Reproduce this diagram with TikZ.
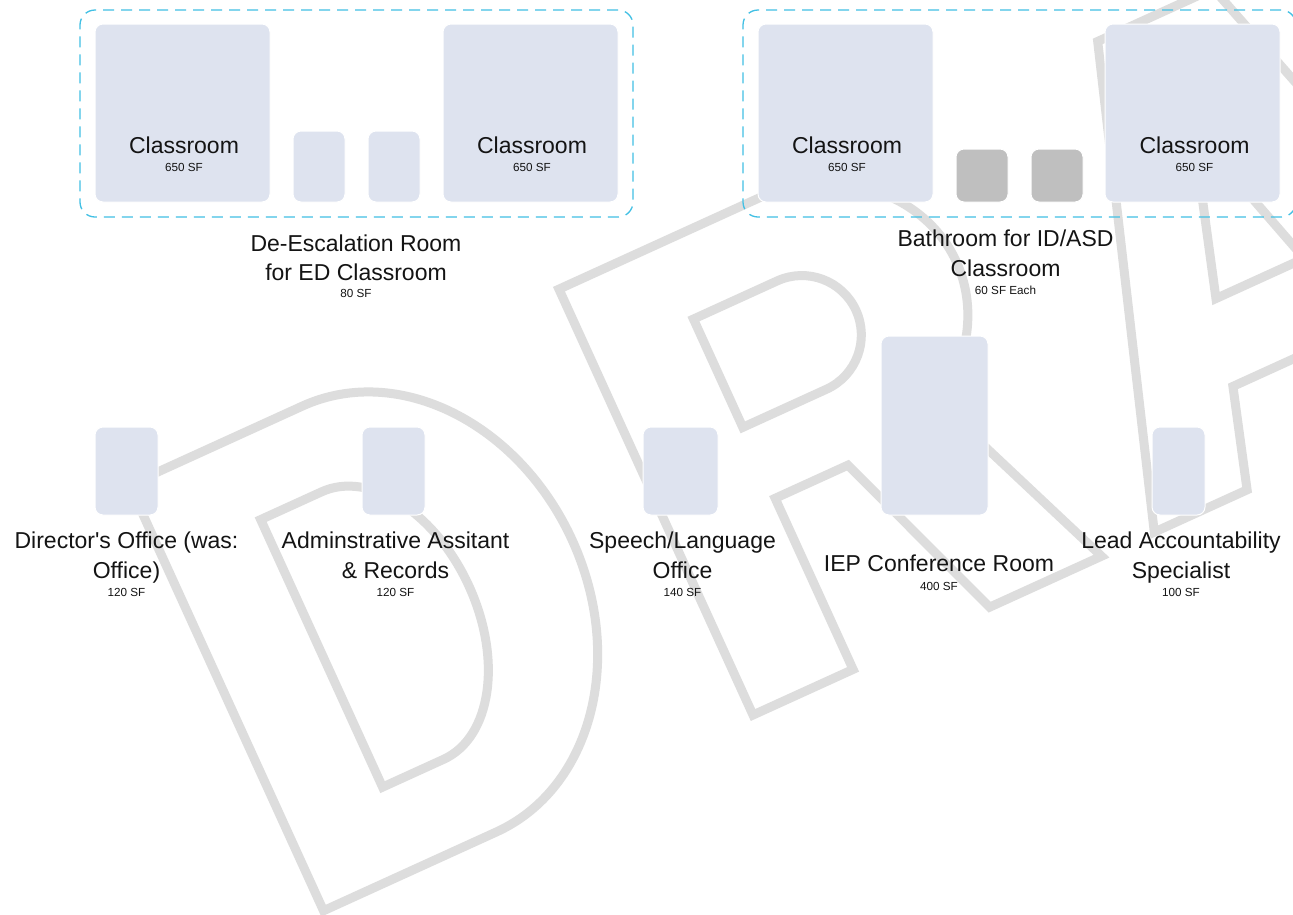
\documentclass[tikz,border=0pt]{standalone}
\usepackage{fontspec}
\setmainfont{Liberation Sans}
% plain family: keeps the straight apostrophe
\newfontfamily\roomfont{Liberation Sans}

\definecolor{roomfill}{RGB}{222,227,239}
\definecolor{bathfill}{RGB}{191,191,191}
\definecolor{zoneline}{RGB}{66,192,228}
\definecolor{wmgrey}{RGB}{221,221,221}
\definecolor{ink}{RGB}{20,20,20}

\tikzset{
  room/.style={shape=rectangle, fill=roomfill, draw=white, line width=1pt,
    rounded corners=8pt, anchor=north west, inner sep=0pt, outer sep=0pt},
  bath/.style={room, fill=bathfill},
  zone/.style={shape=rectangle, draw=zoneline, line width=1.3pt,
    dash pattern=on 11pt off 7pt, rounded corners=15pt,
    anchor=north west, inner sep=0pt, outer sep=0pt},
  bigtxt/.style={font=\roomfont\fontsize{23}{28}\selectfont, text=ink, inner sep=0pt, anchor=base},
  smalltxt/.style={font=\roomfont\fontsize{11.7}{14}\selectfont, text=ink, inner sep=0pt, anchor=base},
  wm/.style={draw=wmgrey, line width=9pt}
}

\begin{document}
\begin{tikzpicture}[x=1pt, y=-1pt]
  \useasboundingbox (0,0) rectangle (1293,914);
  \clip (0,0) rectangle (1293,914);
  \fill[white] (0,0) rectangle (1293,914);

  % ---- DRAFT watermark (outlined letters, tilted) ----
  \begin{scope}[shift={(753,715)}, x=1pt, y=1pt, rotate=24.5]
    % D
    \draw[wm] (-472,0) -- (-472,468) -- (-282,468)
      arc[start angle=90, end angle=-90, x radius=190, y radius=234] -- cycle;
    \draw[wm] (-367,88) -- (-367,382) -- (-300,382)
      arc[start angle=90, end angle=-90, x radius=95, y radius=147] -- cycle;
    % R
    \draw[wm] (0,0) -- (0,468) -- (218,468)
      arc[start angle=90, end angle=-59, x radius=155, y radius=140]
      -- (383,0) -- (260,0) -- (190,188) -- (110,188) -- (110,0) -- cycle;
    \draw[wm] (110,266) -- (110,385) -- (202,385)
      arc[start angle=90, end angle=-90, radius=59.5] -- cycle;
    % A
    \draw[wm] (441,0) -- (593,470) -- (720,470) -- (862,0) -- (760,0)
      -- (730,100) -- (573,100) -- (543,0) -- cycle;
    \draw[wm] (594,187) -- (643,350) -- (691,187) -- cycle;
  \end{scope}

  % ---- ED classroom pair ----
  \node[zone, minimum width=553pt, minimum height=207pt] (zoneL) at (80,10) {};
  \node[room, minimum width=175pt, minimum height=178pt] (cr1) at (95,24) {};
  \node[room, minimum width=52pt, minimum height=71pt] (de1) at (293,131) {};
  \node[room, minimum width=52pt, minimum height=71pt] (de2) at (368,131) {};
  \node[room, minimum width=175pt, minimum height=178pt] (cr2) at (443,24) {};
  \node[bigtxt] (cr1t) at (184,153.5) {Classroom};
  \node[smalltxt] (cr1s) at (184,171) {650 SF};
  \node[bigtxt] (cr2t) at (532,153.5) {Classroom};
  \node[smalltxt] (cr2s) at (532,171) {650 SF};
  \node[bigtxt] (deL1) at (356,251.5) {De-Escalation Room};
  \node[bigtxt] (deL2) at (356,280) {for ED Classroom};
  \node[smalltxt] (deL3) at (356,297.5) {80 SF};

  % ---- ID/ASD classroom pair ----
  \node[zone, minimum width=553pt, minimum height=207pt] (zoneR) at (743,10) {};
  \node[room, minimum width=175pt, minimum height=178pt] (cr3) at (758,24) {};
  \node[bath, minimum width=52pt, minimum height=53pt] (ba1) at (956,149) {};
  \node[bath, minimum width=52pt, minimum height=53pt] (ba2) at (1031,149) {};
  \node[room, minimum width=175pt, minimum height=178pt] (cr4) at (1105,24) {};
  \node[bigtxt] (cr3t) at (847,153.5) {Classroom};
  \node[smalltxt] (cr3s) at (847,171) {650 SF};
  \node[bigtxt] (cr4t) at (1194.5,153.5) {Classroom};
  \node[smalltxt] (cr4s) at (1194.5,171) {650 SF};
  \node[bigtxt] (baL1) at (1005.5,246.5) {Bathroom for ID/ASD};
  \node[bigtxt] (baL2) at (1005.5,276.5) {Classroom};
  \node[smalltxt] (baL3) at (1005.5,294) {60 SF Each};

  % ---- offices ----
  \node[room, minimum width=63pt, minimum height=88pt] (dir) at (95,427) {};
  \node[room, minimum width=63pt, minimum height=88pt] (adm) at (362,427) {};
  \node[room, minimum width=75pt, minimum height=88pt] (slp) at (643,427) {};
  \node[room, minimum width=107pt, minimum height=179pt] (iep) at (881,336) {};
  \node[room, minimum width=53pt, minimum height=88pt] (las) at (1152,427) {};

  \node[bigtxt] (dirL1) at (126.5,548.3) {Director's Office (was:};
  \node[bigtxt] (dirL2) at (126.5,578.3) {Office)};
  \node[smalltxt] (dirL3) at (126.5,596.3) {120 SF};

  \node[bigtxt] (admL1) at (395.5,548.3) {Adminstrative Assitant};
  \node[bigtxt] (admL2) at (395.5,578.3) {\& Records};
  \node[smalltxt] (admL3) at (395.5,596.3) {120 SF};

  \node[bigtxt] (slpL1) at (682.5,548.3) {Speech/Language};
  \node[bigtxt] (slpL2) at (682.5,578.3) {Office};
  \node[smalltxt] (slpL3) at (682.5,596.3) {140 SF};

  \node[bigtxt] (iepL1) at (939,571.5) {IEP Conference Room};
  \node[smalltxt] (iepL2) at (939,590) {400 SF};

  \node[bigtxt] (lasL1) at (1181,548.3) {Lead Accountability};
  \node[bigtxt] (lasL2) at (1181,578.3) {Specialist};
  \node[smalltxt] (lasL3) at (1181,596.3) {100 SF};
\end{tikzpicture}
\end{document}
